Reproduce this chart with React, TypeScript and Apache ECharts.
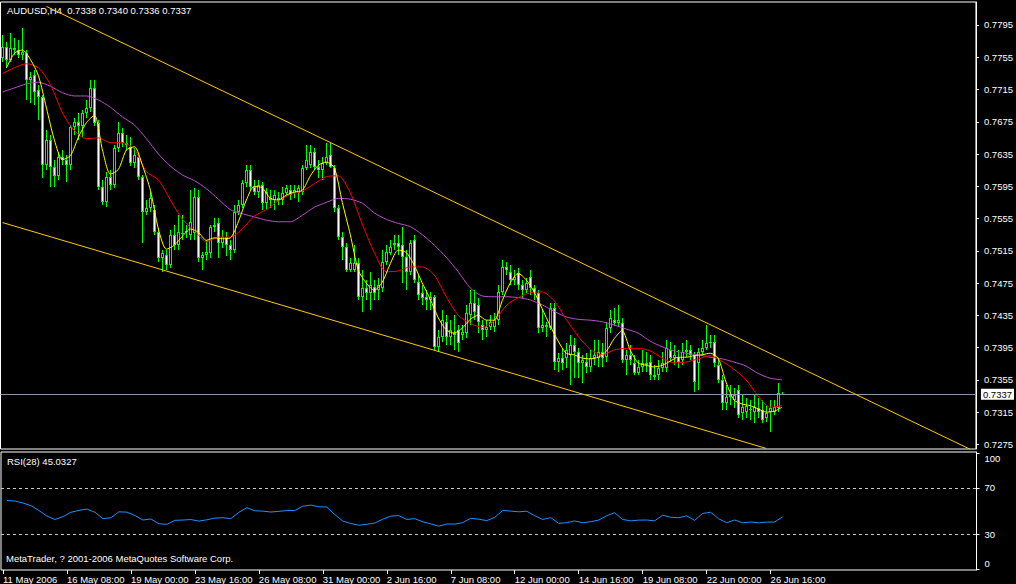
import React, { useEffect, useRef } from "react";
import * as echarts from "echarts";

const FONT = '"Liberation Sans", Arial, sans-serif';

// ---- axis labels -------------------------------------------------------
const symbolTitle = "AUDUSD,H4";
const tickLabels = [
  "11 May 2006", "16 May 08:00", "19 May 00:00", "23 May 16:00", "26 May 08:00",
  "31 May 00:00", "2 Jun 16:00", "7 Jun 08:00", "12 Jun 00:00", "14 Jun 16:00",
  "19 Jun 08:00", "22 Jun 00:00", "26 Jun 16:00",
];
const barsPerTick = 16;
const slotCount = 244; // bars + empty space on the right
const priceTicks = [0.7275, 0.7315, 0.7355, 0.7395, 0.7435, 0.7475, 0.7515, 0.7555, 0.7595, 0.7635, 0.7675, 0.7715, 0.7755, 0.7795];
const rsiTicks = [0, 30, 70, 100];
const rsiLevels = [70, 30];
const priceMin = 0.726921;
const priceMax = 0.782352;
const currentPrice = 0.7337;
const rsiCurrent = 45.0327;
const copyright = "MetaTrader, ? 2001-2006 MetaQuotes Software Corp.";

// ---- H4 candles: [open, close, low, high] --------------------------------
const ohlc = [
  [0.7754,0.7768,0.7749,0.7783],[0.7768,0.7752,0.7742,0.7774],[0.7752,0.7766,0.7749,0.7785],[0.7766,0.7764,0.7758,0.7779],
  [0.7764,0.7758,0.7754,0.7776],[0.7758,0.7762,0.7752,0.7791],[0.7760,0.7727,0.7702,0.7764],[0.7727,0.7730,0.7698,0.7737],
  [0.7733,0.7712,0.7696,0.7739],[0.7714,0.7706,0.7677,0.7721],[0.7706,0.7621,0.7605,0.7708],[0.7621,0.7652,0.7615,0.7665],
  [0.7652,0.7619,0.7594,0.7659],[0.7619,0.7608,0.7594,0.7628],[0.7608,0.7631,0.7603,0.7638],[0.7631,0.7628,0.7621,0.7640],
  [0.7628,0.7621,0.7600,0.7634],[0.7621,0.7668,0.7615,0.7671],[0.7668,0.7675,0.7659,0.7680],[0.7675,0.7670,0.7652,0.7686],
  [0.7670,0.7686,0.7656,0.7690],[0.7686,0.7692,0.7680,0.7702],[0.7692,0.7717,0.7687,0.7727],[0.7717,0.7674,0.7670,0.7727],
  [0.7674,0.7594,0.7590,0.7677],[0.7594,0.7575,0.7572,0.7603],[0.7575,0.7607,0.7569,0.7613],[0.7607,0.7597,0.7590,0.7615],
  [0.7597,0.7642,0.7593,0.7646],[0.7642,0.7661,0.7638,0.7675],[0.7661,0.7649,0.7644,0.7667],[0.7649,0.7646,0.7640,0.7659],
  [0.7644,0.7624,0.7620,0.7656],[0.7624,0.7634,0.7618,0.7642],[0.7631,0.7607,0.7603,0.7636],[0.7607,0.7563,0.7525,0.7609],
  [0.7563,0.7568,0.7559,0.7578],[0.7568,0.7580,0.7563,0.7588],[0.7566,0.7538,0.7535,0.7572],[0.7538,0.7506,0.7501,0.7543],
  [0.7506,0.7512,0.7489,0.7516],[0.7510,0.7497,0.7491,0.7516],[0.7497,0.7535,0.7494,0.7541],[0.7535,0.7522,0.7516,0.7547],
  [0.7522,0.7538,0.7516,0.7559],[0.7537,0.7536,0.7528,0.7559],[0.7538,0.7539,0.7531,0.7547],[0.7535,0.7551,0.7528,0.7590],
  [0.7537,0.7582,0.7528,0.7593],[0.7582,0.7506,0.7501,0.7590],[0.7506,0.7510,0.7491,0.7513],[0.7510,0.7513,0.7504,0.7528],
  [0.7512,0.7545,0.7506,0.7547],[0.7545,0.7547,0.7538,0.7556],[0.7549,0.7525,0.7506,0.7556],[0.7525,0.7532,0.7518,0.7541],
  [0.7532,0.7522,0.7508,0.7538],[0.7522,0.7516,0.7504,0.7528],[0.7516,0.7563,0.7512,0.7572],[0.7563,0.7572,0.7559,0.7578],
  [0.7572,0.7599,0.7568,0.7603],[0.7599,0.7615,0.7594,0.7621],[0.7615,0.7594,0.7590,0.7621],[0.7594,0.7588,0.7584,0.7603],
  [0.7588,0.7597,0.7580,0.7603],[0.7597,0.7574,0.7566,0.7600],[0.7574,0.7588,0.7566,0.7593],[0.7580,0.7578,0.7568,0.7590],
  [0.7578,0.7584,0.7566,0.7590],[0.7580,0.7578,0.7572,0.7588],[0.7578,0.7587,0.7572,0.7594],[0.7587,0.7593,0.7584,0.7597],
  [0.7590,0.7584,0.7578,0.7597],[0.7587,0.7590,0.7580,0.7597],[0.7587,0.7593,0.7575,0.7597],[0.7588,0.7618,0.7584,0.7621],
  [0.7618,0.7628,0.7615,0.7646],[0.7621,0.7638,0.7618,0.7646],[0.7638,0.7619,0.7615,0.7642],[0.7619,0.7615,0.7605,0.7628],
  [0.7615,0.7624,0.7603,0.7631],[0.7624,0.7631,0.7621,0.7649],[0.7634,0.7619,0.7618,0.7649],[0.7618,0.7568,0.7563,0.7621],
  [0.7568,0.7532,0.7528,0.7572],[0.7532,0.7520,0.7504,0.7538],[0.7520,0.7491,0.7489,0.7525],[0.7491,0.7500,0.7489,0.7506],
  [0.7491,0.7500,0.7489,0.7522],[0.7500,0.7458,0.7454,0.7506],[0.7458,0.7469,0.7439,0.7491],[0.7469,0.7463,0.7454,0.7479],
  [0.7463,0.7473,0.7442,0.7489],[0.7470,0.7463,0.7454,0.7479],[0.7466,0.7473,0.7454,0.7481],[0.7469,0.7501,0.7464,0.7516],
  [0.7501,0.7513,0.7497,0.7522],[0.7512,0.7520,0.7510,0.7528],[0.7522,0.7525,0.7516,0.7535],[0.7525,0.7520,0.7510,0.7535],
  [0.7522,0.7507,0.7475,0.7545],[0.7507,0.7489,0.7466,0.7516],[0.7489,0.7525,0.7485,0.7528],[0.7528,0.7479,0.7475,0.7535],
  [0.7476,0.7460,0.7454,0.7485],[0.7463,0.7457,0.7448,0.7473],[0.7458,0.7454,0.7442,0.7466],[0.7454,0.7458,0.7442,0.7464],
  [0.7458,0.7396,0.7392,0.7460],[0.7396,0.7408,0.7390,0.7417],[0.7408,0.7429,0.7402,0.7442],[0.7427,0.7408,0.7398,0.7435],
  [0.7408,0.7417,0.7398,0.7429],[0.7413,0.7411,0.7392,0.7435],[0.7417,0.7401,0.7390,0.7423],[0.7411,0.7414,0.7404,0.7423],
  [0.7413,0.7438,0.7407,0.7448],[0.7435,0.7450,0.7423,0.7466],[0.7450,0.7439,0.7429,0.7466],[0.7448,0.7427,0.7413,0.7457],
  [0.7423,0.7417,0.7404,0.7429],[0.7417,0.7420,0.7408,0.7429],[0.7420,0.7427,0.7417,0.7435],[0.7420,0.7429,0.7414,0.7438],
  [0.7429,0.7464,0.7423,0.7473],[0.7464,0.7495,0.7460,0.7504],[0.7495,0.7491,0.7485,0.7501],[0.7489,0.7479,0.7473,0.7497],
  [0.7479,0.7483,0.7473,0.7491],[0.7487,0.7473,0.7466,0.7494],[0.7473,0.7466,0.7457,0.7479],[0.7466,0.7475,0.7463,0.7481],
  [0.7483,0.7469,0.7460,0.7491],[0.7469,0.7463,0.7454,0.7473],[0.7463,0.7419,0.7413,0.7466],[0.7419,0.7423,0.7414,0.7442],
  [0.7423,0.7420,0.7408,0.7427],[0.7419,0.7444,0.7417,0.7450],[0.7444,0.7377,0.7367,0.7450],[0.7377,0.7382,0.7365,0.7388],
  [0.7382,0.7376,0.7367,0.7394],[0.7382,0.7392,0.7370,0.7401],[0.7386,0.7398,0.7349,0.7411],[0.7398,0.7390,0.7357,0.7407],
  [0.7390,0.7376,0.7357,0.7394],[0.7376,0.7380,0.7351,0.7386],[0.7377,0.7371,0.7363,0.7388],[0.7371,0.7382,0.7365,0.7392],
  [0.7382,0.7386,0.7373,0.7404],[0.7382,0.7390,0.7371,0.7404],[0.7390,0.7382,0.7371,0.7401],[0.7383,0.7419,0.7377,0.7427],
  [0.7419,0.7432,0.7413,0.7442],[0.7429,0.7425,0.7422,0.7444],[0.7425,0.7429,0.7420,0.7448],[0.7425,0.7380,0.7376,0.7432],
  [0.7380,0.7386,0.7361,0.7392],[0.7386,0.7380,0.7373,0.7398],[0.7376,0.7363,0.7361,0.7386],[0.7363,0.7371,0.7361,0.7380],
  [0.7371,0.7376,0.7365,0.7392],[0.7376,0.7373,0.7365,0.7390],[0.7377,0.7361,0.7355,0.7386],[0.7361,0.7359,0.7355,0.7373],
  [0.7361,0.7370,0.7355,0.7380],[0.7370,0.7376,0.7365,0.7390],[0.7370,0.7394,0.7365,0.7404],[0.7392,0.7382,0.7377,0.7402],
  [0.7382,0.7386,0.7373,0.7398],[0.7383,0.7377,0.7370,0.7392],[0.7380,0.7390,0.7373,0.7401],[0.7390,0.7392,0.7383,0.7404],
  [0.7392,0.7386,0.7380,0.7398],[0.7386,0.7352,0.7340,0.7390],[0.7376,0.7390,0.7342,0.7394],[0.7390,0.7394,0.7386,0.7404],
  [0.7394,0.7401,0.7392,0.7423],[0.7401,0.7402,0.7394,0.7411],[0.7402,0.7376,0.7371,0.7411],[0.7373,0.7355,0.7351,0.7382],
  [0.7355,0.7326,0.7318,0.7361],[0.7326,0.7334,0.7318,0.7349],[0.7334,0.7336,0.7324,0.7349],[0.7330,0.7336,0.7320,0.7345],
  [0.7342,0.7311,0.7308,0.7349],[0.7314,0.7321,0.7305,0.7336],[0.7315,0.7323,0.7308,0.7332],[0.7319,0.7318,0.7305,0.7330],
  [0.7315,0.7321,0.7301,0.7336],[0.7320,0.7315,0.7308,0.7332],[0.7318,0.7305,0.7301,0.7330],[0.7308,0.7314,0.7303,0.7324],
  [0.7315,0.7320,0.7290,0.7330],[0.7315,0.7321,0.7311,0.7330],[0.7320,0.7339,0.7315,0.7351],[0.7338,0.7337,0.7336,0.7340],
];

const maFastStart = 1, maFastStep = 2;
const maFast = [
  0.7742,0.7760,0.7764,0.7752,0.7732,0.7692,0.7652,0.7628,0.7633,0.7656,
  0.7674,0.7683,0.7640,0.7610,0.7616,0.7640,0.7644,0.7621,0.7590,0.7542,
  0.7517,0.7522,0.7533,0.7542,0.7538,0.7528,0.7531,0.7530,0.7531,0.7551,
  0.7578,0.7595,0.7593,0.7580,0.7578,0.7584,0.7588,0.7590,0.7608,0.7621,
  0.7625,0.7618,0.7575,0.7535,0.7491,0.7475,0.7466,0.7476,0.7499,0.7516,
  0.7513,0.7497,0.7475,0.7455,0.7432,0.7417,0.7413,0.7419,0.7430,0.7435,
  0.7429,0.7429,0.7453,0.7475,0.7487,0.7479,0.7464,0.7443,0.7422,0.7403,
  0.7388,0.7386,0.7382,0.7381,0.7383,0.7390,0.7406,0.7416,0.7392,0.7376,
  0.7373,0.7371,0.7373,0.7378,0.7383,0.7383,0.7385,0.7386,0.7388,0.7382,
  0.7352,0.7330,0.7325,0.7323,0.7319,0.7315,0.7316,0.7321,
];
const maMidStart = 0, maMidStep = 3;
const maMid = [
  0.7735,0.7742,0.7747,0.7742,0.7721,0.7686,0.7664,0.7654,0.7655,0.7649,
  0.7649,0.7641,0.7613,0.7603,0.7578,0.7554,0.7540,0.7526,0.7532,0.7532,
  0.7542,0.7558,0.7566,0.7577,0.7585,0.7589,0.7598,0.7607,0.7608,0.7587,
  0.7548,0.7513,0.7489,0.7490,0.7495,0.7495,0.7485,0.7458,0.7435,0.7425,
  0.7420,0.7428,0.7447,0.7457,0.7463,0.7464,0.7453,0.7430,0.7409,0.7393,
  0.7386,0.7392,0.7394,0.7394,0.7391,0.7382,0.7376,0.7377,0.7381,0.7385,
  0.7378,0.7368,0.7355,0.7335,0.7321,0.7323,
];
const maSlowStart = 0, maSlowStep = 3;
const maSlow = [
  0.7712,0.7717,0.7722,0.7724,0.7719,0.7711,0.7707,0.7707,0.7702,0.7693,
  0.7681,0.7671,0.7654,0.7635,0.7620,0.7609,0.7602,0.7592,0.7579,0.7566,
  0.7561,0.7557,0.7553,0.7551,0.7551,0.7559,0.7569,0.7575,0.7580,0.7579,
  0.7574,0.7562,0.7554,0.7549,0.7545,0.7535,0.7522,0.7507,0.7489,0.7469,
  0.7459,0.7458,0.7458,0.7457,0.7454,0.7448,0.7440,0.7433,0.7430,0.7429,
  0.7427,0.7423,0.7418,0.7413,0.7403,0.7396,0.7391,0.7388,0.7386,0.7383,
  0.7381,0.7377,0.7372,0.7363,0.7357,0.7355,
];

const rsiStart = 1, rsiStep = 2;
const rsi = [
  59.2,58.7,57.0,54.7,50.5,45.7,42.8,45.2,49.0,50.6,
  51.8,49.0,43.5,44.3,49.4,49.1,46.2,42.3,43.2,39.0,
  38.6,42.0,42.3,42.7,41.4,42.5,44.0,44.3,43.5,49.0,
  52.9,50.3,50.0,49.2,49.8,50.5,50.5,54.3,55.2,53.8,
  53.5,47.0,41.4,39.3,37.8,38.6,39.7,43.0,45.7,46.1,
  42.8,43.5,40.7,39.0,37.0,38.9,38.8,40.0,43.8,43.0,
  41.8,44.6,50.6,50.0,49.4,49.9,46.0,42.8,44.4,39.4,
  40.0,41.5,40.0,40.8,42.3,46.0,48.6,42.8,41.6,42.2,
  42.3,41.6,46.5,44.7,44.3,45.9,42.0,48.0,49.0,43.4,
  40.0,42.3,39.9,40.6,39.9,40.5,40.6,45.0327,
];

// ---- channel trend lines: [bar index, price] ------------------------------
const channelUpper = [[11, 0.7818], [242, 0.7269]];
const channelLower = [[0, 0.7550], [191, 0.7270]];

// ---------------------------------------------------------------------------
const categories = Array.from({ length: slotCount }, (_, i) => `bar${i}`);
const isTick = (i: number) => i % barsPerTick === 0 && i / barsPerTick < tickLabels.length;
const pts = (vals: number[], start: number, step: number) => vals.map((v, k) => [start + k * step, v]);
const lastBar = ohlc[ohlc.length - 1];
const fmt = (v: number) => v.toFixed(4);

const white = "#ffffff";
const LIME = "#00ff00";
const baseText = { color: white, fontSize: 9.5, fontFamily: FONT, fontWeight: "normal" as const };

function renderCandle(_params: any, api: any) {
  const idx = api.value(0);
  const o = api.value(1), c = api.value(2), l = api.value(3), h = api.value(4);
  const pO = api.coord([idx, o]);
  const pC = api.coord([idx, c]);
  const pL = api.coord([idx, l]);
  const pH = api.coord([idx, h]);
  const x0 = Math.round(pO[0] - 1.5);
  const top = Math.round(Math.min(pO[1], pC[1]));
  let bot = Math.round(Math.max(pO[1], pC[1]));
  if (bot - top < 1) bot = top + 1;
  const yH = Math.round(pH[1]);
  const yL = Math.round(pL[1]);
  const bull = c >= o;
  const children: any[] = [
    { type: "rect", shape: { x: x0 + 1, y: yH, width: 1, height: Math.max(1, yL - yH) }, style: { fill: LIME } },
    { type: "rect", shape: { x: x0, y: top, width: 3, height: bot - top }, style: { fill: LIME } },
  ];
  if (bot - top > 2) {
    children.push({
      type: "rect", shape: { x: x0 + 1, y: top + 1, width: 1, height: bot - top - 2 },
      style: { fill: bull ? "#000000" : "#ffffff" },
    });
  }
  return { type: "group", children };
}

function buildOption(): any {
  const lineS = (name: string, data: any[], color: string, z: number) => ({
    name, type: "line", xAxisIndex: 0, yAxisIndex: 0, data, showSymbol: false, symbol: "none",
    lineStyle: { color, width: 1 }, smooth: 0.25, z, silent: true,
  });
  const GL = 0.5;
  return {
    animation: false,
    backgroundColor: "#000000",
    title: [
      { text: `${symbolTitle}  ${fmt(lastBar[0])} ${fmt(lastBar[3])} ${fmt(lastBar[2])} ${fmt(lastBar[1])}`, left: 7, top: 5, padding: 0, textStyle: baseText },
      { text: `RSI(28) ${rsiCurrent.toFixed(4)}`, left: 7, top: 456, padding: 0, textStyle: baseText },
      { text: copyright, left: 6, top: 553, padding: 0, textStyle: baseText },
    ],
    grid: [
      { left: GL, width: 976, top: 2, height: 447, show: true, borderColor: white, borderWidth: 1, backgroundColor: "transparent" },
      { left: GL, width: 976, top: 452, height: 119, show: true, borderColor: white, borderWidth: 1, backgroundColor: "transparent" },
    ],
    xAxis: [
      {
        type: "category", gridIndex: 0, data: categories, boundaryGap: true,
        axisLine: { show: false }, axisTick: { show: false }, axisLabel: { show: false }, splitLine: { show: false },
      },
      {
        type: "category", gridIndex: 1, data: categories, boundaryGap: true,
        axisLine: { show: false, onZero: false },
        axisTick: { show: true, alignWithLabel: true, interval: (i: number) => isTick(i), length: 4, lineStyle: { color: white } },
        axisLabel: {
          show: true, interval: (i: number) => isTick(i), ...baseText, align: "left", verticalAlign: "top", margin: 4,
          formatter: (_v: string, i: number) => (isTick(i) ? tickLabels[i / barsPerTick] : ""),
        },
        splitLine: { show: false },
      },
    ],
    yAxis: [
      {
        type: "value", gridIndex: 0, position: "right", min: priceMin, max: priceMax,
        axisLine: { show: true, onZero: false, lineStyle: { color: white } },
        axisTick: { show: true, length: 3, customValues: priceTicks, lineStyle: { color: white } },
        axisLabel: { show: true, customValues: priceTicks, ...baseText, margin: 8, formatter: (v: number) => fmt(v) },
        splitLine: { show: false },
      },
      {
        type: "value", gridIndex: 1, position: "right", min: -0.9, max: 101.1,
        axisLine: { show: true, onZero: false, lineStyle: { color: white } },
        axisTick: { show: true, length: 3, customValues: rsiTicks, lineStyle: { color: white } },
        axisLabel: {
          show: true, customValues: rsiTicks, ...baseText, margin: 8,
          verticalAlignMinLabel: "bottom", verticalAlignMaxLabel: "top",
          formatter: (v: number) => String(Math.round(v)),
        },
        splitLine: { show: false },
      },
    ],
    series: [
      {
        name: "AUDUSD", type: "custom", xAxisIndex: 0, yAxisIndex: 0, z: 2, silent: true,
        data: ohlc.map((r, i) => [i, r[0], r[1], r[2], r[3]]),
        encode: { x: 0, y: [1, 2, 3, 4] },
        renderItem: renderCandle,
      },
      lineS("MA slow", pts(maSlow, maSlowStart, maSlowStep), "#b84fd0", 3),
      lineS("MA mid", pts(maMid, maMidStart, maMidStep), "#ff0000", 4),
      {
        ...lineS("MA fast", pts(maFast, maFastStart, maFastStep), "#ffff00", 5),
        markLine: {
          silent: true, symbol: ["none", "none"], animation: false, precision: 4,
          lineStyle: { color: "#8797aa", width: 1, type: "solid" },
          label: {
            show: true, position: "end", distance: 5, formatter: fmt(currentPrice),
            color: "#000000", backgroundColor: "#ffffff", fontSize: 9.5, fontFamily: FONT, padding: [1, 2, 0, 2],
          },
          data: [{ yAxis: currentPrice }],
        },
      },
      { ...lineS("Channel upper", channelUpper, "#ffc800", 6), smooth: false },
      { ...lineS("Channel lower", channelLower, "#ffc800", 6), smooth: false },
      {
        name: "RSI(28)", type: "line", xAxisIndex: 1, yAxisIndex: 1, data: pts(rsi, rsiStart, rsiStep),
        showSymbol: false, symbol: "none", lineStyle: { color: "#1e90ff", width: 1 }, silent: true, z: 3,
        markLine: {
          silent: true, symbol: ["none", "none"], animation: false, label: { show: false }, precision: 2,
          lineStyle: { color: "#c8c8c8", width: 1, type: [3, 3] },
          data: rsiLevels.map((v) => ({ yAxis: v })),
        },
      },
    ],
  };
}

export default function App() {
  const ref = useRef<HTMLDivElement>(null);
  useEffect(() => {
    if (!ref.current) return;
    const chart = echarts.init(ref.current, null, { renderer: "svg" });
    chart.setOption(buildOption());
    return () => chart.dispose();
  }, []);
  return (
    <div
      ref={ref}
      style={{ position: "fixed", left: 0, top: 0, width: 1016, height: 584, background: "#000" }}
    />
  );
}
